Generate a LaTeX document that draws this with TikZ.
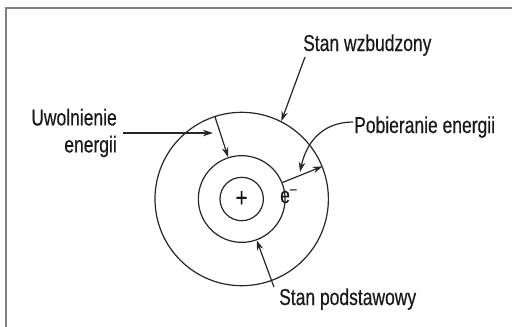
\documentclass[tikz,border=0pt]{standalone}
\usepackage{fontspec}
\setmainfont{Liberation Sans}[FakeStretch=0.76, FakeBold=0.4]
\usetikzlibrary{arrows.meta}
\begin{document}
\begin{tikzpicture}[x=1pt,y=-1pt,
		every node/.style={font=\fontsize{23}{27}\selectfont, text=black!90},
		orbit/.style={circle, draw=black!85, line width=1.2pt, inner sep=0pt},
		lbl/.style={inner sep=1pt},
		ptr/.style={draw=black!85, line width=1.2pt, -{Stealth[length=10pt,width=6.5pt]}}]
		\useasboundingbox (0,0) rectangle (512,327);
		\draw[gray, line width=1.5pt] (6,327) -- (6,8) -- (512,8);

		% atom
		\node[orbit, minimum size=43.4pt] (nucleus) at (241.7,199) {\fontsize{27}{27}\selectfont +};
		\node[orbit, minimum size=86.7pt] (ground) at (nucleus) {};
		\node[orbit, minimum size=173.4pt] (excited) at (nucleus) {};
		\node[lbl, anchor=base west] (elec) at (279,203) {e\textsuperscript{–}};

		% labels
		\node[lbl, anchor=base west] (wzb) at (302,51) {Stan wzbudzony};
		\node[lbl, anchor=east, align=right] (uwol) at (118,133) {Uwolnienie\\energii};
		\node[lbl, anchor=base west] (pob) at (353,133) {Pobieranie energii};
		\node[lbl, anchor=base west] (pod) at (278,305) {Stan podstawowy};
		\coordinate (drop) at (213,133);
		\coordinate (absorb) at (300,172);

		\draw[ptr] ([xshift=3pt]wzb.south west) -- (excited.63);
		\draw[ptr] ([xshift=5pt]uwol.east) -- (drop);
		\draw[ptr] (excited.108) -- (ground.108);
		\draw[ptr] ([yshift=5pt]pob.west) .. controls +(-32,0) and +(6,-28) .. (absorb);
		\draw[ptr] (ground.22) -- (excited.22);
		\draw[ptr] ([xshift=-4pt]pod.north west) -- (ground.-70);
	\end{tikzpicture}
\end{document}
